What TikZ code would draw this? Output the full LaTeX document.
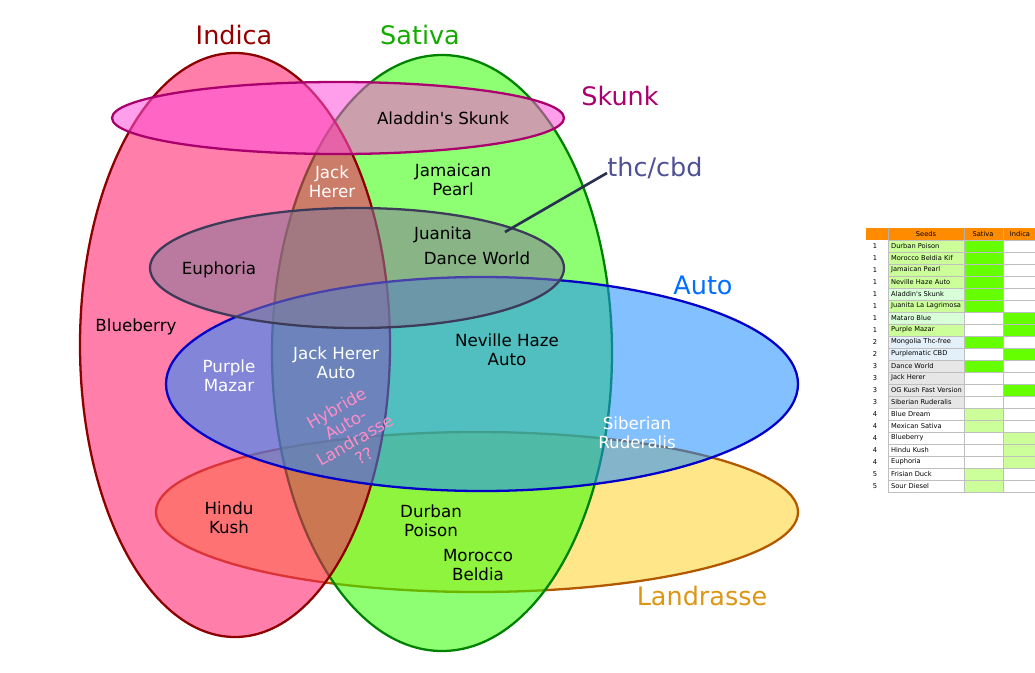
\documentclass[tikz,border=0pt]{standalone}
\usepackage{fontspec}
\setmainfont{DejaVu Sans}
\newcommand{\ap}{\textquotesingle}
\begin{document}
\begin{tikzpicture}[x=0.02cm,y=-0.02cm,
  set/.style={draw,line width=1.3pt,fill opacity=0.55},
  ttl/.style={font=\fontsize{14.5}{16}\selectfont},
  lab/.style={font=\fontsize{9.5}{11}\selectfont,align=center,inner sep=0pt},
  tx/.style={font=\fontsize{3.8}{4}\selectfont,inner sep=1pt}]
\useasboundingbox (0,0) rectangle (1035,673);
\definecolor{g1}{HTML}{66FF00}\definecolor{g2}{HTML}{CCFF99}
\definecolor{n1}{HTML}{CCFF99}\definecolor{n2}{HTML}{D9FFD9}\definecolor{n3}{HTML}{E3F0FA}\definecolor{n4}{HTML}{E6E6E6}
% sets
\draw[set,draw=orange!70!black,fill={rgb,255:red,255;green,210;blue,40}] (477,512) ellipse [x radius=321,y radius=80];
\draw[set,draw={rgb,255:red,0;green,130;blue,0},fill={rgb,255:red,50;green,255;blue,0}] (442,353) ellipse [x radius=170,y radius=298];
\draw[set,draw={rgb,255:red,140;green,0;blue,0},fill={rgb,255:red,255;green,20;blue,100}] (235,345) ellipse [x radius=155,y radius=292];
\draw[set,draw={rgb,255:red,0;green,0;blue,200},fill={rgb,255:red,30;green,140;blue,255}] (482,384) ellipse [x radius=316,y radius=107];
\draw[set,draw={rgb,255:red,60;green,60;blue,90},fill={rgb,255:red,130;green,120;blue,150}] (357,268) ellipse [x radius=207,y radius=60];
\draw[set,draw={rgb,255:red,170;green,0;blue,110},fill={rgb,255:red,255;green,80;blue,220}] (338,118) ellipse [x radius=226,y radius=36];
% titles
\node[ttl,text={rgb,255:red,150;green,0;blue,0}] (ti) at (234,35) {Indica};
\node[ttl,text={rgb,255:red,20;green,170;blue,0}] (ts) at (420,35) {Sativa};
\node[ttl,text={rgb,255:red,170;green,0;blue,110}] (tk) at (620,96) {Skunk};
\node[ttl,text={rgb,255:red,80;green,80;blue,150}] (tc) at (655,168) {thc/cbd};
\node[ttl,text={rgb,255:red,0;green,110;blue,255}] (ta) at (703,285) {Auto};
\node[ttl,text={rgb,255:red,220;green,150;blue,20}] (tl) at (702,596) {Landrasse};
\coordinate (cp) at (505,232);
\draw[line width=1.5pt,draw={rgb,255:red,40;green,50;blue,80}] (607,173) -- (cp);
% labels
\node[lab] (a1) at (443,118) {Aladdin\ap s Skunk};
\node[lab,text=white] (a2) at (332,182) {Jack\\Herer};
\node[lab] (a3) at (453,180) {Jamaican\\Pearl};
\node[lab] (a4) at (443,235) {Juanita};
\node[lab] (a5) at (477,258) {Dance World};
\node[lab] (a6) at (219,270) {Euphoria};
\node[lab] (a7) at (136,327) {Blueberry};
\node[lab,text=white] (a8) at (229,376) {Purple\\Mazar};
\node[lab,text=white] (a9) at (336,363) {Jack Herer\\Auto};
\node[lab] (a10) at (507,350) {Neville Haze\\Auto};
\node[lab,font=\fontsize{9.5}{10.5}\selectfont,text={rgb,255:red,255;green,140;blue,200},rotate=30] (a11) at (350,432) {Hybride\\Auto-\\Landrasse\\??};
\node[lab,text=white] (a12) at (637,433) {Siberian\\Ruderalis};
\node[lab] (a13) at (229,518) {Hindu\\Kush};
\node[lab] (a14) at (431,521) {Durban\\Poison};
\node[lab] (a15) at (478,565) {Morocco\\Beldia};
% table
\fill[orange!90!yellow] (866,228) rectangle (1035,240);
\draw[gray!60,line width=0.3pt] (888,228) -- (888,240) (964,228) -- (964,240) (1003,228) -- (1003,240);
\node[tx] (h1) at (926,234) {Seeds};
\node[tx] (h2) at (983,234) {Sativa};
\node[tx] (h3) at (1020,234) {Indica};
\foreach \n/\name/\nc/\sc/\ic [count=\i] in {
 1/Durban Poison/n1/g1/white, 1/Morocco Beldia Kif/n1/g1/white, 1/Jamaican Pearl/n1/g1/white,
 1/Neville Haze Auto/n1/g1/white, 1/Aladdin\ap s Skunk/n2/g1/white, 1/Juanita La Lagrimosa/n1/g1/white,
 1/Mataro Blue/n2/white/g1, 1/Purple Mazar/n1/white/g1, 2/Mongolia Thc-free/n3/g1/white,
 2/Purplematic CBD/n3/white/g1, 3/Dance World/n4/g1/white, 3/Jack Herer/n4/white/white,
 3/OG Kush Fast Version/n4/white/g1, 3/Siberian Ruderalis/n4/white/white, 4/Blue Dream/white/g2/white,
 4/Mexican Sativa/white/g2/white, 4/Blueberry/white/white/g2, 4/Hindu Kush/white/white/g2,
 4/Euphoria/white/white/g2, 5/Frisian Duck/white/g2/white, 5/Sour Diesel/white/g2/white}{
 \pgfmathsetmacro\y{240+12*(\i-1)}
 \draw[gray!50,line width=0.3pt,fill=\nc] (888,\y) rectangle (964,\y+12);
 \draw[gray!50,line width=0.3pt,fill=\sc] (964,\y) rectangle (1003,\y+12);
 \draw[gray!50,line width=0.3pt,fill=\ic] (1003,\y) rectangle (1036,\y+12);
 \node[tx] at (875,\y+6.5) {\n};
 \node[tx,anchor=west] at (889,\y+6) {\name};
}
\end{tikzpicture}
\end{document}
